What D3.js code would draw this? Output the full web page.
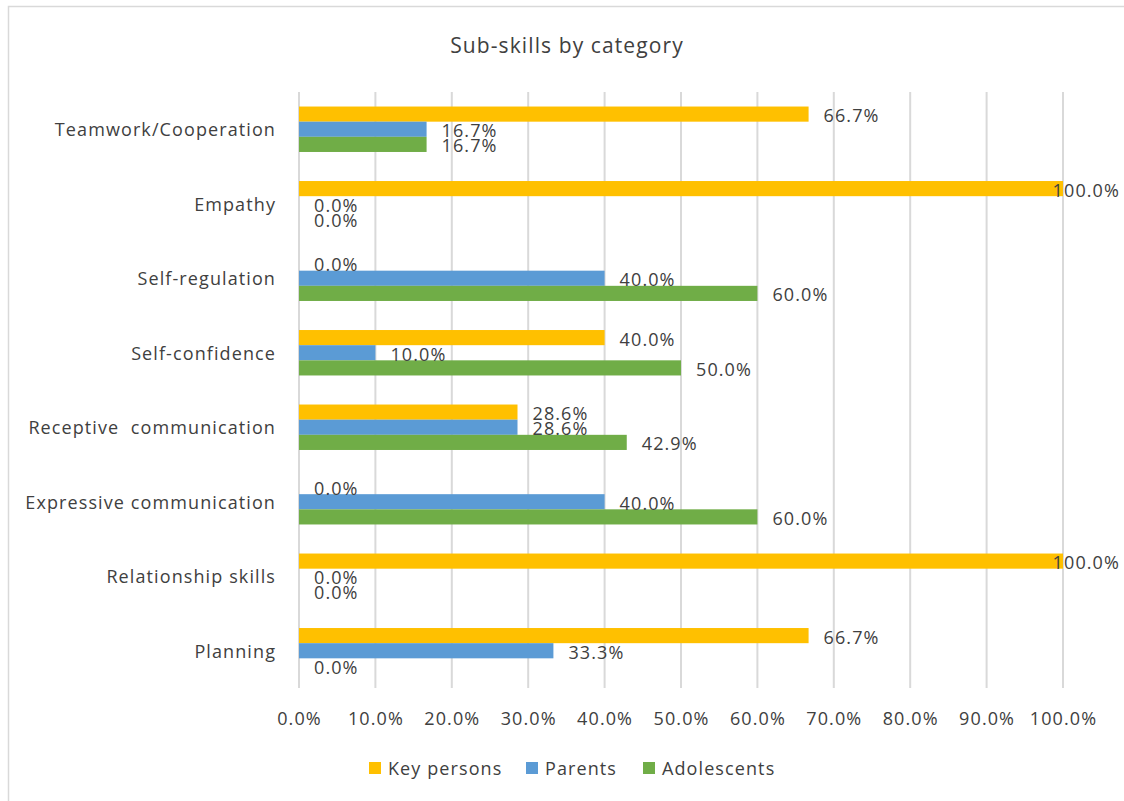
<!DOCTYPE html>
<html>
<head>
<meta charset="utf-8">
<script src="https://cdn.jsdelivr.net/npm/d3@7"></script>
<style>
  html, body { margin: 0; padding: 0; background: #fff; }
  svg { display: block; font-family: "Open Sans", "Noto Sans", sans-serif; letter-spacing: 1.1px; }
  text { white-space: pre; }
</style>
</head>
<body>
<svg id="chart" width="1124" height="801"></svg>
<script>
// Sub-skill categories, top to bottom
const categories = [
  "Teamwork/Cooperation",
  "Empathy",
  "Self-regulation",
  "Self-confidence",
  "Receptive  communication",
  "Expressive communication",
  "Relationship skills",
  "Planning"
];

// Share of mentions per respondent group (%)
const keyPersons  = [66.7, 100.0, 0.0, 40.0, 28.6, 0.0, 100.0, 66.7];
const parents     = [16.7, 0.0, 40.0, 10.0, 28.6, 40.0, 0.0, 33.3];
const adolescents = [16.7, 0.0, 60.0, 50.0, 42.9, 60.0, 0.0, 0.0];

const seriesNames  = ["Key persons", "Parents", "Adolescents"];
const seriesColors = ["#FFC000", "#5B9BD5", "#70AD47"];
const tickValues   = [0, 10, 20, 30, 40, 50, 60, 70, 80, 90, 100];

const seriesValues = [keyPersons, parents, adolescents];

const svg = d3.select("#chart");
const W = 1124, H = 801;

// chart frame
svg.append("rect")
  .attr("x", 8.5).attr("y", 6.5)
  .attr("width", W + 10).attr("height", H + 10)
  .attr("fill", "#fff")
  .attr("stroke", "#d9d9d9").attr("stroke-width", 1.5);

const plot = { left: 299, right: 1063, top: 92, bottom: 688 };

const x = d3.scaleLinear().domain([0, 100]).range([plot.left, plot.right]);
const y = d3.scaleBand().domain(categories).range([plot.top, plot.bottom]).paddingInner(0.39).paddingOuter(0.195);
const ySub = d3.scaleBand().domain(seriesNames).range([0, y.bandwidth()]);

const textColor = "#404040";
const fs = 18;

// title
svg.append("text")
  .attr("x", 567).attr("y", 45)
  .attr("text-anchor", "middle").attr("dominant-baseline", "central")
  .attr("fill", textColor).attr("font-size", 21)
  .text("Sub-skills by category");

// vertical gridlines
svg.append("g").selectAll("line")
  .data(tickValues)
  .join("line")
  .attr("x1", d => x(d)).attr("x2", d => x(d))
  .attr("y1", plot.top).attr("y2", plot.bottom)
  .attr("stroke", "#d9d9d9").attr("stroke-width", 2);

// x axis tick labels
const xAxis = d3.axisBottom(x).tickValues(tickValues).tickSize(0).tickPadding(0)
  .tickFormat(d => d3.format(".1f")(d) + "%");
const gx = svg.append("g").attr("transform", `translate(0, 718)`).call(xAxis);
gx.attr("font-family", null).attr("font-size", null);
gx.select(".domain").remove();
gx.selectAll("text")
  .attr("y", 0).attr("dy", null)
  .attr("dominant-baseline", "central")
  .attr("fill", textColor).attr("font-size", fs);

// y axis category labels
const yAxis = d3.axisLeft(y).tickSize(0).tickPadding(0);
const gy = svg.append("g").attr("transform", `translate(276, 0)`).call(yAxis);
gy.attr("font-family", null).attr("font-size", null);
gy.select(".domain").remove();
gy.selectAll("text")
  .attr("x", 0).attr("dy", null)
  .attr("dominant-baseline", "central")
  .attr("fill", textColor).attr("font-size", fs);

// bars
const rows = [];
categories.forEach((c, i) => {
  seriesNames.forEach((s, j) => {
    rows.push({ cat: c, series: s, value: seriesValues[j][i], color: seriesColors[j] });
  });
});

const barG = svg.append("g");
barG.selectAll("rect")
  .data(rows)
  .join("rect")
  .attr("x", x(0))
  .attr("y", d => y(d.cat) + ySub(d.series))
  .attr("width", d => x(d.value) - x(0))
  .attr("height", ySub.bandwidth())
  .attr("fill", d => d.color);

// value labels, kept inside the chart area
const labelG = svg.append("g");
labelG.selectAll("text")
  .data(rows)
  .join("text")
  .attr("y", d => y(d.cat) + ySub(d.series) + ySub.bandwidth() / 2 + 1)
  .attr("dominant-baseline", "central")
  .attr("fill", textColor).attr("font-size", fs)
  .text(d => d3.format(".1f")(d.value) + "%")
  .each(function(d) {
    const w = this.getComputedTextLength();
    let px = x(d.value) + 15;
    if (px + w > 1120) px = 1120 - w;
    d3.select(this).attr("x", px);
  });

// legend
const legendX = [369, 526, 643];
const legend = svg.append("g");
seriesNames.forEach((s, j) => {
  legend.append("rect")
    .attr("x", legendX[j]).attr("y", 762)
    .attr("width", 12).attr("height", 12)
    .attr("fill", seriesColors[j]);
  legend.append("text")
    .attr("x", legendX[j] + 19).attr("y", 768)
    .attr("dominant-baseline", "central")
    .attr("fill", textColor).attr("font-size", fs)
    .text(s);
});
</script>
</body>
</html>
